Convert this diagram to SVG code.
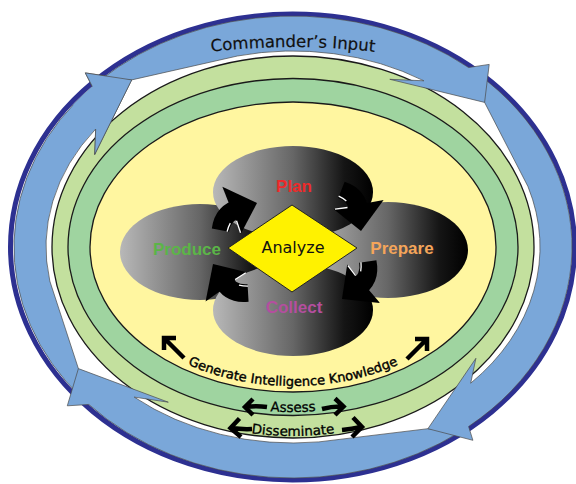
<svg xmlns="http://www.w3.org/2000/svg" width="576" height="484" viewBox="0 0 576 484">
<style>
  .ring { stroke: #1a1a1a; stroke-width: 1.3; }
  .blue { fill: #7AA7D9; stroke: #4a4a4a; stroke-width: 0.7; stroke-linejoin: miter; }
  .lbl { font-family: "Liberation Sans", Arial, sans-serif; font-weight: bold; font-size: 17px; text-anchor: middle; }
  .sans { font-family: "DejaVu Sans", Verdana, sans-serif; text-anchor: middle; }
  .thick { fill: none; stroke: #000; stroke-width: 4.5; stroke-linejoin: miter; stroke-miterlimit: 10; }
</style>
<defs>
  <linearGradient id="shade" x1="0" y1="0" x2="1" y2="0">
    <stop offset="0" stop-color="#b8b8b8"/>
    <stop offset="0.5" stop-color="#666666"/>
    <stop offset="0.82" stop-color="#151515"/>
    <stop offset="1" stop-color="#000000"/>
  </linearGradient>
  <!-- curved 3D turn arrow, tip at origin pointing +x -->
  <g id="turn">
    <path d="M -14,-7.5 Q -34,-8.5 -42,10 L -29,16.5 Q -25,7.5 -14,7.5 Z" fill="#000"/>
    <path d="M 0,0 L -24,-21 L -20,21 Z" fill="#000"/>
    <path d="M -20.5,9.5 L -20,20 M -26,10 Q -28.5,12.5 -30.5,16" fill="none" stroke="#fff" stroke-width="1.1"/>
  </g>
  <!-- baselines for curved labels -->
  <path id="cmd-path" d="M 150,62 Q 293,32 436,62"/>
  <path id="gen-path" d="M 96,247 A 197 139 0 0 0 490,247"/>
  <path id="assess-path" d="M 71,247 A 222 165 0 0 0 515,247"/>
  <path id="dissem-path" d="M 53,247 A 240 189 0 0 0 533,247"/>
</defs>

<rect x="0" y="0" width="576" height="484" fill="#ffffff"/>

<!-- outer boundary -->
<ellipse id="outer-ring" cx="292.5" cy="247" rx="282" ry="233" fill="none" stroke="#2D3091" stroke-width="5"/>

<!-- nested activity rings -->
<g id="rings">
  <ellipse id="disseminate-ring" class="ring" cx="293" cy="247" rx="241" ry="191" fill="#C3E09E"/>
  <ellipse id="assess-ring" class="ring" cx="293" cy="247" rx="225" ry="168.5" fill="#9FD4A0"/>
  <ellipse id="core" class="ring" cx="293" cy="247" rx="203" ry="145" fill="#FFF6A0"/>
</g>

<!-- commander's input cycle: four clockwise arc arrows -->
<g id="commanders-input">
  <path class="blue" d="M 82.4,398.6 A 279 231 0 0 1 92.3,86.5 L 85.3,72.9 L 131.7,79.9 L 94.7,154.5 L 95.7,129.0 A 247 196 0 0 0 49.8,281.0 L 78.4,368.6 Z"/>
  <path class="blue" d="M 460.9,431.5 A 279 231 0 0 1 88.9,404.5 L 67.3,405.8 L 78.4,368.6 L 168.3,402.2 L 134.2,397.1 A 247 196 0 0 0 318.8,441.9 L 427.9,428.7 Z"/>
  <path class="blue" d="M 476.1,72.7 A 279 231 0 0 1 468.6,426.5 L 472.9,440.3 L 427.9,428.7 L 475.9,358.3 L 470.7,383.2 A 247 196 0 0 0 527.9,186.4 L 484.6,102.4 Z"/>
  <path class="blue" d="M 99.2,80.8 A 279 231 0 0 1 468.6,67.5 L 489.2,64.4 L 484.6,102.4 L 389.8,79.3 L 423.9,80.8 A 247 196 0 0 0 237.4,56.0 L 131.7,79.9 Z"/>
  <!-- head of the left arc laid over the tail of the top arc -->
  <path d="M 95.7,129.0 L 73.1,104.8 A 279 231 0 0 1 92.3,86.5 L 85.3,72.9 L 131.7,79.9 L 94.7,154.5 Z" fill="#7AA7D9"/>
  <path d="M 92.3,86.5 L 85.3,72.9 L 131.7,79.9 L 94.7,154.5 L 95.7,129.0" fill="none" stroke="#4a4a4a" stroke-width="0.7"/>
  <text class="sans" font-size="16.5" fill="#111" stroke="#111" stroke-width="0.2"><textPath href="#cmd-path" startOffset="50%">Commander’s Input</textPath></text>
</g>

<!-- process nodes -->
<g id="node-produce">
  <ellipse cx="200" cy="252" rx="80" ry="48" fill="url(#shade)"/>
  <text class="lbl" x="187" y="255" fill="#5BB548">Produce</text>
</g>
<g id="node-prepare">
  <ellipse cx="388" cy="250" rx="80" ry="48" fill="url(#shade)"/>
  <text class="lbl" x="402" y="254" fill="#F4A55A">Prepare</text>
</g>
<g id="node-plan">
  <ellipse cx="293" cy="192" rx="80" ry="46" fill="url(#shade)"/>
  <text class="lbl" x="294" y="192" fill="#EE2A2A">Plan</text>
</g>
<g id="node-collect">
  <ellipse cx="293" cy="310" rx="80" ry="46" fill="url(#shade)"/>
  <text class="lbl" x="294" y="313" fill="#B44E9F">Collect</text>
</g>

<!-- connectors -->
<g id="connectors">
  <use href="#turn" transform="translate(257,203) rotate(-16) scale(1.2)"/>
  <use href="#turn" transform="translate(361,231) rotate(85) scale(1.2)"/>
  <use href="#turn" transform="translate(342,299) rotate(145) scale(1.2)"/>
  <use href="#turn" transform="translate(213,264) rotate(240) scale(1.2)"/>
  <!-- generate intelligence knowledge -->
  <path class="thick" d="M 176,338 L 164,338 L 164,350 M 165,339 L 184,358"/>
  <path class="thick" d="M 415,339 L 427,339 L 427,351 M 426,340 L 407,359"/>
  <!-- assess -->
  <path class="thick" d="M 253,399 L 245,407 L 253,415 M 246,407 Q 256,405.5 267,407"/>
  <path class="thick" d="M 335,398.5 L 343.5,406.5 L 335,415 M 342.5,406.5 Q 333,406 322,409"/>
  <!-- disseminate -->
  <path class="thick" d="M 239.5,418.5 L 230.5,428 L 241,437 M 231.5,428 Q 242,429.5 252,429"/>
  <path class="thick" d="M 353,417.5 L 362,427 L 352,437 M 361,427 Q 352,429 342,430"/>
</g>

<!-- central analysis node -->
<g id="node-analyze">
  <polygon points="228,248 292,205 357,248 292,292" fill="#FFF200" stroke="#222" stroke-width="1"/>
  <text class="sans" x="293" y="253" font-size="16" fill="#111">Analyze</text>
</g>

<!-- ring labels -->
<g id="ring-labels">
  <text class="sans" font-size="13" fill="#000" stroke="#000" stroke-width="0.4"><textPath href="#gen-path" startOffset="50%">Generate Intelligence Knowledge</textPath></text>
  <text class="sans" font-size="13.5" fill="#000" stroke="#000" stroke-width="0.3"><textPath href="#assess-path" startOffset="50%">Assess</textPath></text>
  <text class="sans" font-size="13.5" fill="#000" stroke="#000" stroke-width="0.3"><textPath href="#dissem-path" startOffset="50%">Disseminate</textPath></text>
</g>
</svg>
